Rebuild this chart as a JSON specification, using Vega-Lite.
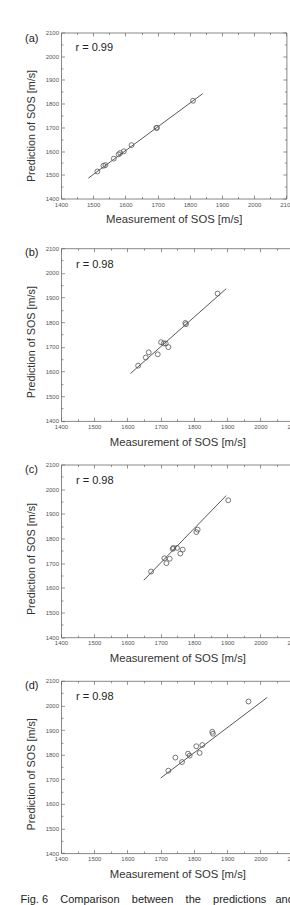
{
  "$schema": "https://vega.github.io/schema/vega-lite/v6.json",
  "padding": {"left": 20, "top": 28.5, "right": 0, "bottom": 0},
  "config": {
    "font": "Liberation Sans",
    "view": {"stroke": "#888", "strokeWidth": 1},
    "axis": {"grid": false, "domain": false, "labelFontSize": 6, "labelColor": "#555", "tickColor": "#666", "tickWidth": 0.7, "labelFlush": false, "labelOverlap": false, "titleFontWeight": "normal", "titleColor": "#333", "labelPadding": 6}
  },
  "title": {"text": "Fig. 6\u00a0\u00a0\u00a0\u00a0Comparison\u00a0\u00a0\u00a0\u00a0between\u00a0\u00a0\u00a0\u00a0the\u00a0\u00a0\u00a0\u00a0predictions\u00a0\u00a0\u00a0and", "orient": "bottom", "anchor": "start", "frame": "bounds", "fontSize": 11, "fontWeight": "normal", "color": "#222", "offset": 14, "dx": -4},
  "spacing": 49.7,
  "bounds": "flush",
  "vconcat": [
    {
      "width": 225.4, "height": 166,
      "layer": [
        {"data": {"values": [{"x": 1485, "y": 1486}, {"x": 1840, "y": 1842}]},
         "mark": {"type": "line", "color": "#444", "strokeWidth": 0.9},
         "encoding": {
           "x": {"field": "x", "type": "quantitative", "scale": {"domain": [1400, 2100], "nice": false, "zero": false},
                 "axis": {"orient": "bottom", "format": "d", "values": [1400,1450,1500,1550,1600,1650,1700,1750,1800,1850,1900,1950,2000,2050,2100], "labelExpr": "datum.value % 100 === 0 ? datum.label : ''", "tickSize": {"condition": {"test": "datum.value % 100 === 0", "value": -3.5}, "value": -2}, "title": "Measurement of SOS [m/s]", "titleFontSize": 11.3, "titleY": 21, "titleBaseline": "middle"}},
           "y": {"field": "y", "type": "quantitative", "scale": {"domain": [1400, 2100], "nice": false, "zero": false},
                 "axis": {"orient": "left", "format": "d", "values": [1400,1450,1500,1550,1600,1650,1700,1750,1800,1850,1900,1950,2000,2050,2100], "labelExpr": "datum.value % 100 === 0 ? datum.label : ''", "tickSize": {"condition": {"test": "datum.value % 100 === 0", "value": -3.5}, "value": -2}, "title": "Prediction of SOS [m/s]", "titleFontSize": 10.8, "titleX": -30, "titleY": 93, "titleBaseline": "middle"}}
         }},
        {"data": {"values": [{"x":1513,"y":1514},{"x":1532,"y":1538},{"x":1538,"y":1541},{"x":1564,"y":1568},{"x":1579,"y":1586},{"x":1584,"y":1592},{"x":1595,"y":1599},{"x":1619,"y":1625},{"x":1696,"y":1698},{"x":1698,"y":1698},{"x":1810,"y":1812}]},
         "mark": {"type": "point", "shape": "circle", "filled": false, "color": "#555", "size": 24, "strokeWidth": 0.8, "opacity": 1},
         "encoding": {
           "x": {"field": "x", "type": "quantitative", "axis": {"orient": "top", "labels": false, "title": null, "values": [1400,1450,1500,1550,1600,1650,1700,1750,1800,1850,1900,1950,2000,2050,2100], "tickSize": {"condition": {"test": "datum.value % 100 === 0", "value": -3.5}, "value": -2}}},
           "y": {"field": "y", "type": "quantitative", "axis": {"orient": "right", "labels": false, "title": null, "values": [1400,1450,1500,1550,1600,1650,1700,1750,1800,1850,1900,1950,2000,2050,2100], "tickSize": {"condition": {"test": "datum.value % 100 === 0", "value": -3.5}, "value": -2}}}
         }},
        {"data": {"values": [{"label": "r = 0.99"}]},
         "mark": {"type": "text", "align": "left", "baseline": "middle", "fontSize": 11, "color": "#222"},
         "encoding": {"x": {"datum": 1445, "type": "quantitative", "axis": null}, "y": {"datum": 2033, "type": "quantitative", "axis": null}, "text": {"field": "label"}}},
        {"data": {"values": [{"panel": "(a)"}]},
         "mark": {"type": "text", "align": "left", "baseline": "middle", "fontSize": 11, "color": "#222", "dx": -36, "dy": 6},
         "encoding": {"x": {"datum": 1400, "type": "quantitative", "axis": null}, "y": {"datum": 2100, "type": "quantitative", "axis": null}, "text": {"field": "panel"}}}
      ],
      "resolve": {"axis": {"x": "independent", "y": "independent"}}
    },
    {
      "spacing": 43.3,
      "bounds": "flush",
      "vconcat": [
        {
          "width": 232.7, "height": 172.7,
          "layer": [
            {"data": {"values": [{"x": 1609, "y": 1592}, {"x": 1897, "y": 1936}]},
             "mark": {"type": "line", "color": "#444", "strokeWidth": 0.9},
             "encoding": {
               "x": {"field": "x", "type": "quantitative", "scale": {"domain": [1400, 2100], "nice": false, "zero": false},
                     "axis": {"orient": "bottom", "format": "d", "values": [1400,1450,1500,1550,1600,1650,1700,1750,1800,1850,1900,1950,2000,2050,2100], "labelExpr": "datum.value % 100 === 0 ? datum.label : ''", "tickSize": {"condition": {"test": "datum.value % 100 === 0", "value": -3.5}, "value": -2}, "title": "Measurement of SOS [m/s]", "titleFontSize": 11.3, "titleY": 21.5, "titleBaseline": "middle"}},
               "y": {"field": "y", "type": "quantitative", "scale": {"domain": [1400, 2100], "nice": false, "zero": false},
                     "axis": {"orient": "left", "format": "d", "values": [1400,1450,1500,1550,1600,1650,1700,1750,1800,1850,1900,1950,2000,2050,2100], "labelExpr": "datum.value % 100 === 0 ? datum.label : ''", "tickSize": {"condition": {"test": "datum.value % 100 === 0", "value": -3.5}, "value": -2}, "title": "Prediction of SOS [m/s]", "titleFontSize": 10.8, "titleX": -30, "titleY": 93.5, "titleBaseline": "middle"}}
             }},
            {"data": {"values": [{"x":1632,"y":1624},{"x":1655,"y":1657},{"x":1664,"y":1678},{"x":1691,"y":1670},{"x":1701,"y":1719},{"x":1709,"y":1714},{"x":1715,"y":1714},{"x":1723,"y":1699},{"x":1774,"y":1797},{"x":1776,"y":1792},{"x":1871,"y":1916}]},
             "mark": {"type": "point", "shape": "circle", "filled": false, "color": "#555", "size": 24, "strokeWidth": 0.8, "opacity": 1},
             "encoding": {
               "x": {"field": "x", "type": "quantitative", "axis": {"orient": "top", "labels": false, "title": null, "values": [1400,1450,1500,1550,1600,1650,1700,1750,1800,1850,1900,1950,2000,2050,2100], "tickSize": {"condition": {"test": "datum.value % 100 === 0", "value": -3.5}, "value": -2}}},
               "y": {"field": "y", "type": "quantitative", "axis": {"orient": "right", "labels": false, "title": null, "values": [1400,1450,1500,1550,1600,1650,1700,1750,1800,1850,1900,1950,2000,2050,2100], "tickSize": {"condition": {"test": "datum.value % 100 === 0", "value": -3.5}, "value": -2}}}
             }},
            {"data": {"values": [{"label": "r = 0.98"}]},
             "mark": {"type": "text", "align": "left", "baseline": "middle", "fontSize": 11, "color": "#222"},
             "encoding": {"x": {"datum": 1445, "type": "quantitative", "axis": null}, "y": {"datum": 2033, "type": "quantitative", "axis": null}, "text": {"field": "label"}}},
            {"data": {"values": [{"panel": "(b)"}]},
             "mark": {"type": "text", "align": "left", "baseline": "middle", "fontSize": 11, "color": "#222", "dx": -36, "dy": 5},
             "encoding": {"x": {"datum": 1400, "type": "quantitative", "axis": null}, "y": {"datum": 2100, "type": "quantitative", "axis": null}, "text": {"field": "panel"}}}
          ],
          "resolve": {"axis": {"x": "independent", "y": "independent"}}
        },
        {
          "width": 232.7, "height": 172.7,
          "layer": [
            {"data": {"values": [{"x": 1649, "y": 1631}, {"x": 1897, "y": 1974}]},
             "mark": {"type": "line", "color": "#444", "strokeWidth": 0.9},
             "encoding": {
               "x": {"field": "x", "type": "quantitative", "scale": {"domain": [1400, 2100], "nice": false, "zero": false},
                     "axis": {"orient": "bottom", "format": "d", "values": [1400,1450,1500,1550,1600,1650,1700,1750,1800,1850,1900,1950,2000,2050,2100], "labelExpr": "datum.value % 100 === 0 ? datum.label : ''", "tickSize": {"condition": {"test": "datum.value % 100 === 0", "value": -3.5}, "value": -2}, "title": "Measurement of SOS [m/s]", "titleFontSize": 11.3, "titleY": 21.5, "titleBaseline": "middle"}},
               "y": {"field": "y", "type": "quantitative", "scale": {"domain": [1400, 2100], "nice": false, "zero": false},
                     "axis": {"orient": "left", "format": "d", "values": [1400,1450,1500,1550,1600,1650,1700,1750,1800,1850,1900,1950,2000,2050,2100], "labelExpr": "datum.value % 100 === 0 ? datum.label : ''", "tickSize": {"condition": {"test": "datum.value % 100 === 0", "value": -3.5}, "value": -2}, "title": "Prediction of SOS [m/s]", "titleFontSize": 10.8, "titleX": -30, "titleY": 94, "titleBaseline": "middle"}}
             }},
            {"data": {"values": [{"x":1671,"y":1666},{"x":1711,"y":1720},{"x":1717,"y":1700},{"x":1727,"y":1718},{"x":1736,"y":1758},{"x":1738,"y":1762},{"x":1749,"y":1762},{"x":1759,"y":1739},{"x":1766,"y":1755},{"x":1807,"y":1826},{"x":1811,"y":1836},{"x":1903,"y":1955}]},
             "mark": {"type": "point", "shape": "circle", "filled": false, "color": "#555", "size": 24, "strokeWidth": 0.8, "opacity": 1},
             "encoding": {
               "x": {"field": "x", "type": "quantitative", "axis": {"orient": "top", "labels": false, "title": null, "values": [1400,1450,1500,1550,1600,1650,1700,1750,1800,1850,1900,1950,2000,2050,2100], "tickSize": {"condition": {"test": "datum.value % 100 === 0", "value": -3.5}, "value": -2}}},
               "y": {"field": "y", "type": "quantitative", "axis": {"orient": "right", "labels": false, "title": null, "values": [1400,1450,1500,1550,1600,1650,1700,1750,1800,1850,1900,1950,2000,2050,2100], "tickSize": {"condition": {"test": "datum.value % 100 === 0", "value": -3.5}, "value": -2}}}
             }},
            {"data": {"values": [{"label": "r = 0.98"}]},
             "mark": {"type": "text", "align": "left", "baseline": "middle", "fontSize": 11, "color": "#222"},
             "encoding": {"x": {"datum": 1445, "type": "quantitative", "axis": null}, "y": {"datum": 2033, "type": "quantitative", "axis": null}, "text": {"field": "label"}}},
            {"data": {"values": [{"panel": "(c)"}]},
             "mark": {"type": "text", "align": "left", "baseline": "middle", "fontSize": 11, "color": "#222", "dx": -36, "dy": 5},
             "encoding": {"x": {"datum": 1400, "type": "quantitative", "axis": null}, "y": {"datum": 2100, "type": "quantitative", "axis": null}, "text": {"field": "panel"}}}
          ],
          "resolve": {"axis": {"x": "independent", "y": "independent"}}
        },
        {
          "width": 232.7, "height": 172.3,
          "layer": [
            {"data": {"values": [{"x": 1700, "y": 1705}, {"x": 2020, "y": 2032}]},
             "mark": {"type": "line", "color": "#444", "strokeWidth": 0.9},
             "encoding": {
               "x": {"field": "x", "type": "quantitative", "scale": {"domain": [1400, 2100], "nice": false, "zero": false},
                     "axis": {"orient": "bottom", "format": "d", "values": [1400,1450,1500,1550,1600,1650,1700,1750,1800,1850,1900,1950,2000,2050,2100], "labelExpr": "datum.value % 100 === 0 ? datum.label : ''", "tickSize": {"condition": {"test": "datum.value % 100 === 0", "value": -3.5}, "value": -2}, "title": "Measurement of SOS [m/s]", "titleFontSize": 11.3, "titleY": 21.5, "titleBaseline": "middle"}},
               "y": {"field": "y", "type": "quantitative", "scale": {"domain": [1400, 2100], "nice": false, "zero": false},
                     "axis": {"orient": "left", "format": "d", "values": [1400,1450,1500,1550,1600,1650,1700,1750,1800,1850,1900,1950,2000,2050,2100], "labelExpr": "datum.value % 100 === 0 ? datum.label : ''", "tickSize": {"condition": {"test": "datum.value % 100 === 0", "value": -3.5}, "value": -2}, "title": "Prediction of SOS [m/s]", "titleFontSize": 10.8, "titleX": -30, "titleY": 93, "titleBaseline": "middle"}}
             }},
            {"data": {"values": [{"x":1723,"y":1735},{"x":1744,"y":1788},{"x":1764,"y":1770},{"x":1782,"y":1804},{"x":1787,"y":1796},{"x":1807,"y":1834},{"x":1817,"y":1807},{"x":1825,"y":1839},{"x":1855,"y":1893},{"x":1857,"y":1885},{"x":1964,"y":2016}]},
             "mark": {"type": "point", "shape": "circle", "filled": false, "color": "#555", "size": 24, "strokeWidth": 0.8, "opacity": 1},
             "encoding": {
               "x": {"field": "x", "type": "quantitative", "axis": {"orient": "top", "labels": false, "title": null, "values": [1400,1450,1500,1550,1600,1650,1700,1750,1800,1850,1900,1950,2000,2050,2100], "tickSize": {"condition": {"test": "datum.value % 100 === 0", "value": -3.5}, "value": -2}}},
               "y": {"field": "y", "type": "quantitative", "axis": {"orient": "right", "labels": false, "title": null, "values": [1400,1450,1500,1550,1600,1650,1700,1750,1800,1850,1900,1950,2000,2050,2100], "tickSize": {"condition": {"test": "datum.value % 100 === 0", "value": -3.5}, "value": -2}}}
             }},
            {"data": {"values": [{"label": "r = 0.98"}]},
             "mark": {"type": "text", "align": "left", "baseline": "middle", "fontSize": 11, "color": "#222"},
             "encoding": {"x": {"datum": 1445, "type": "quantitative", "axis": null}, "y": {"datum": 2033, "type": "quantitative", "axis": null}, "text": {"field": "label"}}},
            {"data": {"values": [{"panel": "(d)"}]},
             "mark": {"type": "text", "align": "left", "baseline": "middle", "fontSize": 11, "color": "#222", "dx": -36, "dy": 5},
             "encoding": {"x": {"datum": 1400, "type": "quantitative", "axis": null}, "y": {"datum": 2100, "type": "quantitative", "axis": null}, "text": {"field": "panel"}}}
          ],
          "resolve": {"axis": {"x": "independent", "y": "independent"}}
        }
      ]
    }
  ]
}
